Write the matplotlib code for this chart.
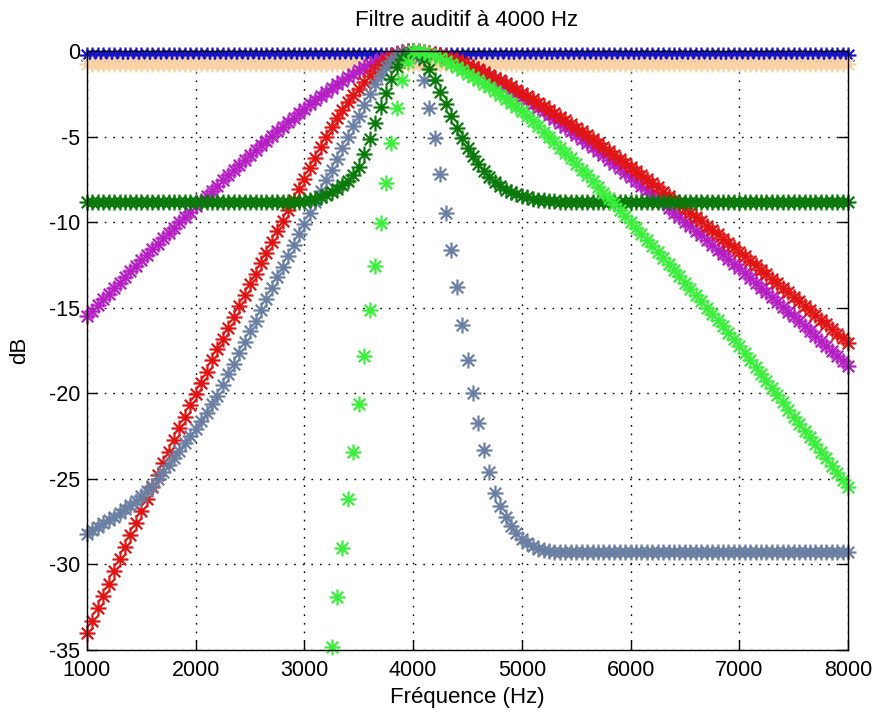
import numpy as np
import matplotlib
matplotlib.use('Agg')
import matplotlib.pyplot as plt
from matplotlib.path import Path

# ---------------- data ----------------
freq_hz = np.arange(1000, 8001, 50)  # 141 frequencies

blue_db = [
    -0.25, -0.25, -0.25, -0.25, -0.25, -0.25, -0.25, -0.25, -0.25, -0.25,
    -0.25, -0.25, -0.25, -0.25, -0.25, -0.25, -0.25, -0.25, -0.25, -0.25,
    -0.25, -0.25, -0.25, -0.25, -0.25, -0.25, -0.25, -0.25, -0.25, -0.25,
    -0.25, -0.25, -0.25, -0.25, -0.25, -0.25, -0.25, -0.25, -0.25, -0.25,
    -0.25, -0.25, -0.25, -0.25, -0.25, -0.25, -0.25, -0.25, -0.25, -0.25,
    -0.25, -0.25, -0.25, -0.25, -0.25, -0.25, -0.25, -0.25, -0.25, -0.25,
    -0.25,
    -0.25, -0.25, -0.25, -0.25, -0.25, -0.25, -0.25, -0.25, -0.25, -0.25,
    -0.25, -0.25, -0.25, -0.25, -0.25, -0.25, -0.25, -0.25, -0.25, -0.25,
    -0.25, -0.25, -0.25, -0.25, -0.25, -0.25, -0.25, -0.25, -0.25, -0.25,
    -0.25, -0.25, -0.25, -0.25, -0.25, -0.25, -0.25, -0.25, -0.25, -0.25,
    -0.25, -0.25, -0.25, -0.25, -0.25, -0.25, -0.25, -0.25, -0.25, -0.25,
    -0.25, -0.25, -0.25, -0.25, -0.25, -0.25, -0.25, -0.25, -0.25, -0.25,
    -0.25, -0.25, -0.25, -0.25, -0.25, -0.25, -0.25, -0.25, -0.25, -0.25,
    -0.25, -0.25, -0.25, -0.25, -0.25, -0.25, -0.25, -0.25, -0.25, -0.25,
]

orange_db = [
    -0.75, -0.75, -0.75, -0.75, -0.75, -0.75, -0.75, -0.75, -0.75, -0.75,
    -0.75, -0.75, -0.75, -0.75, -0.75, -0.75, -0.75, -0.75, -0.75, -0.75,
    -0.75, -0.75, -0.75, -0.75, -0.75, -0.75, -0.75, -0.75, -0.75, -0.75,
    -0.75, -0.75, -0.75, -0.75, -0.75, -0.75, -0.75, -0.75, -0.75, -0.75,
    -0.75, -0.75, -0.75, -0.75, -0.75, -0.75, -0.75, -0.75, -0.75, -0.75,
    -0.75, -0.75, -0.75, -0.75, -0.75, -0.75, -0.75, -0.75, -0.75, -0.75,
    -0.75,
    -0.75, -0.75, -0.75, -0.75, -0.75, -0.75, -0.75, -0.75, -0.75, -0.75,
    -0.75, -0.75, -0.75, -0.75, -0.75, -0.75, -0.75, -0.75, -0.75, -0.75,
    -0.75, -0.75, -0.75, -0.75, -0.75, -0.75, -0.75, -0.75, -0.75, -0.75,
    -0.75, -0.75, -0.75, -0.75, -0.75, -0.75, -0.75, -0.75, -0.75, -0.75,
    -0.75, -0.75, -0.75, -0.75, -0.75, -0.75, -0.75, -0.75, -0.75, -0.75,
    -0.75, -0.75, -0.75, -0.75, -0.75, -0.75, -0.75, -0.75, -0.75, -0.75,
    -0.75, -0.75, -0.75, -0.75, -0.75, -0.75, -0.75, -0.75, -0.75, -0.75,
    -0.75, -0.75, -0.75, -0.75, -0.75, -0.75, -0.75, -0.75, -0.75, -0.75,
]

magenta_db = [
    -15.50, -15.17, -14.84, -14.51, -14.18, -13.85, -13.53, -13.20, -12.88, -12.55,
    -12.23, -11.91, -11.59, -11.27, -10.95, -10.64, -10.32, -10.01, -9.69, -9.38,
    -9.08, -8.77, -8.46, -8.16, -7.86, -7.56, -7.26, -6.97, -6.67, -6.38,
    -6.09, -5.81, -5.52, -5.24, -4.97, -4.69, -4.42, -4.15, -3.89, -3.63,
    -3.37, -3.12, -2.88, -2.64, -2.40, -2.17, -1.95, -1.74, -1.52, -1.33,
    -1.13, -0.95, -0.78, -0.62, -0.48, -0.35, -0.23, -0.14, -0.06, -0.02,
    0.00,
    -0.01, -0.05, -0.11, -0.18, -0.26, -0.36, -0.48, -0.60, -0.73, -0.88,
    -1.03, -1.19, -1.35, -1.53, -1.70, -1.89, -2.08, -2.27, -2.47, -2.67,
    -2.88, -3.09, -3.31, -3.52, -3.74, -3.97, -4.19, -4.42, -4.66, -4.89,
    -5.13, -5.37, -5.61, -5.85, -6.10, -6.35, -6.59, -6.84, -7.10, -7.35,
    -7.61, -7.87, -8.12, -8.38, -8.64, -8.91, -9.17, -9.44, -9.70, -9.97,
    -10.24, -10.51, -10.78, -11.05, -11.32, -11.60, -11.87, -12.15, -12.42, -12.70,
    -12.98, -13.26, -13.54, -13.82, -14.10, -14.38, -14.66, -14.95, -15.23, -15.51,
    -15.80, -16.09, -16.37, -16.66, -16.95, -17.23, -17.52, -17.81, -18.10, -18.39,
]

red_db = [
    -34.00, -33.28, -32.56, -31.84, -31.12, -30.40, -29.68, -28.97, -28.26, -27.56,
    -26.86, -26.16, -25.46, -24.77, -24.09, -23.41, -22.73, -22.05, -21.37, -20.70,
    -20.03, -19.38, -18.73, -18.08, -17.44, -16.80, -16.16, -15.53, -14.90, -14.27,
    -13.64, -13.02, -12.40, -11.78, -11.16, -10.54, -9.92, -9.30, -8.68, -8.06,
    -7.45, -6.84, -6.23, -5.62, -5.02, -4.45, -3.92, -3.45, -3.00, -2.58,
    -2.20, -1.83, -1.48, -1.13, -0.82, -0.55, -0.33, -0.17, -0.07, -0.02,
    0.00,
    -0.01, -0.04, -0.09, -0.16, -0.24, -0.33, -0.43, -0.54, -0.66, -0.79,
    -0.93, -1.08, -1.23, -1.39, -1.55, -1.72, -1.89, -2.07, -2.25, -2.44,
    -2.63, -2.82, -3.02, -3.22, -3.42, -3.63, -3.84, -4.05, -4.27, -4.48,
    -4.70, -4.93, -5.15, -5.37, -5.60, -5.83, -6.06, -6.29, -6.53, -6.77,
    -7.00, -7.24, -7.48, -7.72, -7.97, -8.21, -8.46, -8.70, -8.95, -9.20,
    -9.45, -9.70, -9.95, -10.20, -10.46, -10.71, -10.97, -11.23, -11.48, -11.74,
    -12.00, -12.26, -12.52, -12.78, -13.04, -13.31, -13.57, -13.83, -14.10, -14.36,
    -14.63, -14.90, -15.16, -15.43, -15.70, -15.97, -16.24, -16.51, -16.78, -17.05,
]

grey_db = [
    -28.20, -28.00, -27.80, -27.60, -27.40, -27.20, -27.00, -26.78, -26.55, -26.30,
    -26.03, -25.73, -25.40, -25.03, -24.62, -24.20, -23.78, -23.35, -22.93, -22.50,
    -22.08, -21.63, -21.15, -20.65, -20.16, -19.53, -18.90, -18.27, -17.64, -17.01,
    -16.38, -15.75, -15.12, -14.49, -13.86, -13.23, -12.60, -11.97, -11.34, -10.71,
    -10.08, -9.45, -8.82, -8.19, -7.56, -6.93, -6.30, -5.67, -5.04, -4.41,
    -3.78, -3.15, -2.52, -1.92, -1.38, -0.92, -0.57, -0.30, -0.13, -0.03,
    0.00,
    -0.43, -1.70, -3.35, -5.10, -7.20, -9.45, -11.60, -13.80, -16.00, -18.06,
    -20.00, -21.74, -23.30, -24.60, -25.80, -26.60, -27.20, -27.75, -28.15, -28.50,
    -28.75, -28.95, -29.08, -29.17, -29.22, -29.26, -29.28, -29.30, -29.30, -29.30,
    -29.30, -29.30, -29.30, -29.30, -29.30, -29.30, -29.30, -29.30, -29.30, -29.30,
    -29.30, -29.30, -29.30, -29.30, -29.30, -29.30, -29.30, -29.30, -29.30, -29.30,
    -29.30, -29.30, -29.30, -29.30, -29.30, -29.30, -29.30, -29.30, -29.30, -29.30,
    -29.30, -29.30, -29.30, -29.30, -29.30, -29.30, -29.30, -29.30, -29.30, -29.30,
    -29.30, -29.30, -29.30, -29.30, -29.30, -29.30, -29.30, -29.30, -29.30, -29.30,
]

darkgreen_db = [
    -8.85, -8.85, -8.85, -8.85, -8.85, -8.85, -8.85, -8.85, -8.85, -8.85,
    -8.85, -8.85, -8.85, -8.85, -8.85, -8.85, -8.85, -8.85, -8.85, -8.85,
    -8.85, -8.85, -8.85, -8.85, -8.85, -8.85, -8.85, -8.85, -8.85, -8.85,
    -8.85, -8.85, -8.85, -8.85, -8.85, -8.85, -8.85, -8.85, -8.85, -8.82,
    -8.78, -8.72, -8.64, -8.54, -8.42, -8.26, -8.07, -7.84, -7.58, -7.24,
    -6.75, -6.00, -5.12, -4.20, -3.30, -2.45, -1.62, -0.95, -0.45, -0.15,
    -0.02,
    -0.08, -0.45, -1.05, -1.70, -2.40, -3.10, -3.80, -4.48, -5.10, -5.65,
    -6.15, -6.60, -7.00, -7.35, -7.65, -7.90, -8.10, -8.25, -8.38, -8.48,
    -8.56, -8.63, -8.68, -8.72, -8.76, -8.79, -8.81, -8.83, -8.84, -8.85,
    -8.85, -8.85, -8.85, -8.85, -8.85, -8.85, -8.85, -8.85, -8.85, -8.85,
    -8.85, -8.85, -8.85, -8.85, -8.85, -8.85, -8.85, -8.85, -8.85, -8.85,
    -8.85, -8.85, -8.85, -8.85, -8.85, -8.85, -8.85, -8.85, -8.85, -8.85,
    -8.85, -8.85, -8.85, -8.85, -8.85, -8.85, -8.85, -8.85, -8.85, -8.85,
    -8.85, -8.85, -8.85, -8.85, -8.85, -8.85, -8.85, -8.85, -8.85, -8.85,
]

# values left of 3250 Hz lie below the -35 dB limit of the plot
lightgreen_db = [
    -165.3, -162.4, -159.5, -156.6, -153.7, -150.8, -147.9, -145.0, -142.1, -139.2,
    -136.3, -133.4, -130.5, -127.6, -124.7, -121.8, -118.9, -116.0, -113.1, -110.2,
    -107.3, -104.4, -101.5, -98.6, -95.7, -92.8, -89.9, -87.0, -84.1, -81.2,
    -78.3, -75.4, -72.5, -69.6, -66.7, -63.8, -60.9, -58.0, -55.1, -52.2,
    -49.3, -46.4, -43.5, -40.6, -37.7, -34.80, -31.90, -29.05, -26.20, -23.45,
    -20.65, -17.85, -15.15, -12.55, -10.05, -7.70, -5.40, -3.35, -1.70, -0.65,
    0.00,
    -0.02, -0.08, -0.16, -0.28, -0.41, -0.57, -0.74, -0.92, -1.12, -1.33,
    -1.52, -1.71, -1.91, -2.12, -2.34, -2.56, -2.79, -3.03, -3.27, -3.52,
    -3.81, -4.10, -4.40, -4.71, -5.02, -5.33, -5.64, -5.96, -6.28, -6.61,
    -6.94, -7.27, -7.60, -7.93, -8.27, -8.61, -8.95, -9.29, -9.64, -9.98,
    -10.33, -10.68, -11.03, -11.39, -11.74, -12.10, -12.45, -12.81, -13.17, -13.53,
    -13.90, -14.26, -14.62, -14.99, -15.36, -15.73, -16.09, -16.46, -16.84, -17.21,
    -17.62, -18.03, -18.45, -18.86, -19.28, -19.70, -20.11, -20.53, -20.95, -21.37,
    -21.78, -22.18, -22.58, -22.99, -23.41, -23.81, -24.22, -24.63, -25.04, -25.45,
]

series = [
    (blue_db, '#1414C8'),
    (orange_db, '#F9D3A6'),
    (magenta_db, '#B41EC3'),
    (red_db, '#E01414'),
    (grey_db, '#6B7FA3'),
    (darkgreen_db, '#0A780A'),
    (lightgreen_db, '#3CEE3C'),
]

x_ticks = [1000, 2000, 3000, 4000, 5000, 6000, 7000, 8000]
y_ticks = [-35, -30, -25, -20, -15, -10, -5, 0]
title_text = 'Filtre auditif à 4000 Hz'
xlabel_text = 'Fréquence (Hz)'
ylabel_text = 'dB'

for vals, _ in series:
    assert len(vals) == len(freq_hz), len(vals)

# ---------------- drawing ----------------
FONT = ['Liberation Sans Narrow', 'Liberation Sans', 'DejaVu Sans']
plt.rcParams['font.family'] = FONT

W, H = 874, 713
fig = plt.figure(figsize=(W / 100, H / 100), dpi=100)
fig.patch.set_facecolor('white')
L, R, T, B = 87, 848, 51, 650
ax = fig.add_axes([L / W, (H - B) / H, (R - L) / W, (B - T) / H])

# MATLAB-like asterisk marker: '+' with shorter diagonal 'x'
d = 0.72
ast = Path([(-1, 0), (1, 0), (0, -1), (0, 1), (-d, -d), (d, d), (-d, d), (d, -d)],
           [Path.MOVETO, Path.LINETO] * 4)

ymin, ymax = -35, 0
for vals, col in series:
    y = np.asarray(vals, dtype=float)
    yv = np.where((y >= ymin - 0.3) & (y <= ymax + 0.3), y, np.nan)  # points outside view not drawn
    ax.plot(freq_hz, yv, linestyle='none', marker=ast, markersize=11.5,
            markeredgewidth=1.6, color=col, clip_on=False)

ax.set_xlim(1000, 8000)
ax.set_ylim(ymin, ymax)
ax.set_xticks(x_ticks)
ax.set_yticks(y_ticks)
ax.set_xticklabels([str(v) for v in x_ticks])
ax.set_yticklabels([str(v) for v in y_ticks])

ax.set_axisbelow(True)
ax.grid(True, color='black', linestyle=(0, (1.2, 5.0)), linewidth=1.0)
for s in ax.spines.values():
    s.set_linewidth(1.0)
    s.set_color('black')
ax.tick_params(direction='in', length=7, width=1.0, top=True, right=True,
               labelsize=15.5, colors='black')
ax.tick_params(axis='x', pad=7)
ax.tick_params(axis='y', pad=5)

fig.text(467 / W, 1 - 20 / H, title_text, ha='center', va='center', fontsize=16)
fig.text(467 / W, 1 - 698 / H, xlabel_text, ha='center', va='center', fontsize=16)
fig.text(20 / W, 1 - 350 / H, ylabel_text, ha='center', va='center', fontsize=16,
         rotation=90)

fig.savefig('out.png', dpi=100, facecolor='white')
